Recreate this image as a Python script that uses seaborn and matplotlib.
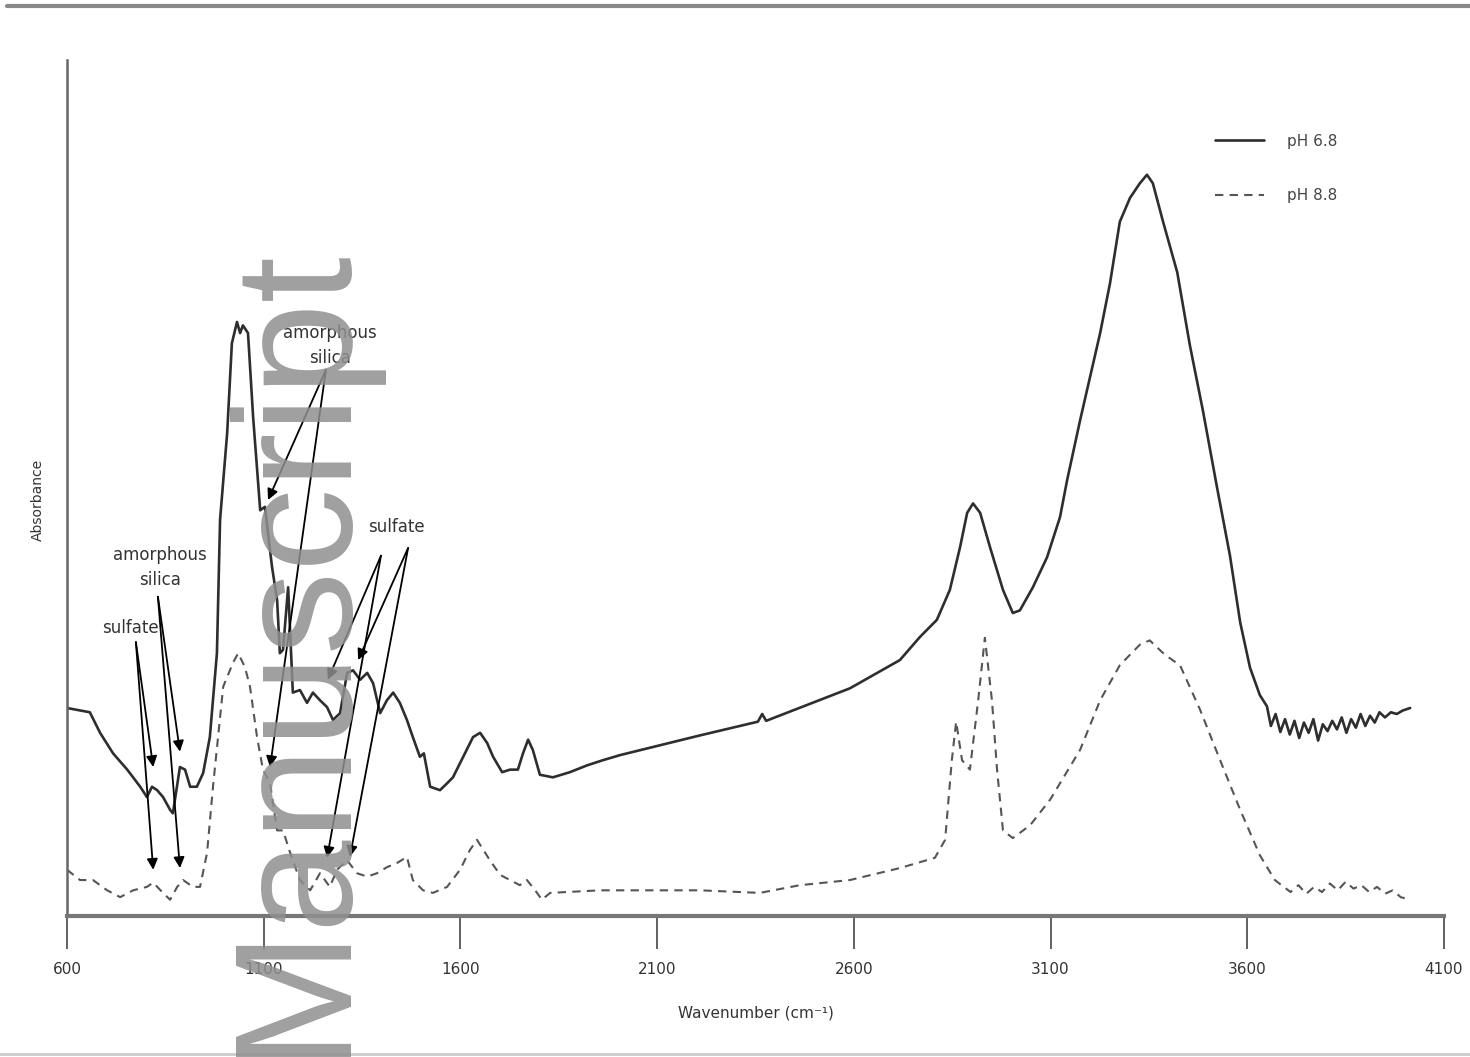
import matplotlib
matplotlib.use("Agg")
import matplotlib.pyplot as plt
from matplotlib.lines import Line2D
import pandas as pd
import seaborn as sns

# pH 6.8 spectrum (solid)
wn_68 = [600, 658, 684, 717, 753, 786, 803, 816, 829, 844, 862, 869, 887, 900, 913, 930,
         946, 963, 981, 989, 1007, 1019, 1032, 1040, 1047, 1060, 1073, 1091, 1103, 1121,
         1134, 1141, 1149, 1162, 1174, 1192, 1210, 1225, 1243, 1261, 1276, 1294, 1312,
         1327, 1345, 1363, 1378, 1396, 1413, 1429, 1446, 1464, 1479, 1497, 1507, 1523,
         1548, 1566, 1581, 1607, 1632, 1650, 1668, 1683, 1706, 1726, 1746, 1759, 1772,
         1784, 1802, 1835, 1878, 1922, 1962, 2006, 2209, 2356, 2367, 2377, 2590, 2717,
         2768, 2811, 2844, 2870, 2888, 2903, 2921, 2946, 2979, 3004, 3022, 3055, 3091,
         3124, 3142, 3175, 3226, 3251, 3276, 3302, 3327, 3345, 3360, 3386, 3422, 3454,
         3487, 3523, 3556, 3582, 3607, 3632, 3650,
         3660, 3672, 3684, 3696, 3708, 3720, 3732, 3744, 3756, 3768, 3780, 3792, 3804,
         3816, 3828, 3840, 3852, 3864, 3876, 3888, 3900, 3912, 3924, 3936, 3950, 3965,
         3980, 3995, 4014]
abs_68 = [0.243, 0.238, 0.214, 0.190, 0.171, 0.151, 0.139, 0.151, 0.147, 0.139, 0.124,
          0.120, 0.174, 0.171, 0.151, 0.151, 0.167, 0.209, 0.307, 0.463, 0.564, 0.669,
          0.694, 0.681, 0.690, 0.681, 0.583, 0.474, 0.478, 0.408, 0.369, 0.307, 0.311,
          0.384, 0.261, 0.264, 0.249, 0.261, 0.252, 0.244, 0.229, 0.237, 0.284, 0.287,
          0.276, 0.284, 0.272, 0.237, 0.252, 0.261, 0.249, 0.229, 0.209, 0.186, 0.190,
          0.151, 0.147, 0.155, 0.162, 0.186, 0.209, 0.214, 0.202, 0.186, 0.168, 0.171,
          0.171, 0.190, 0.206, 0.194, 0.165, 0.162, 0.168, 0.176, 0.182, 0.188, 0.211,
          0.227, 0.236, 0.228, 0.266, 0.299, 0.326, 0.346, 0.381, 0.431, 0.471, 0.482,
          0.471, 0.431, 0.381, 0.354, 0.357, 0.384, 0.419, 0.466, 0.509, 0.579, 0.681,
          0.739, 0.811, 0.839, 0.856, 0.866, 0.856, 0.811, 0.752, 0.667, 0.591, 0.501,
          0.421, 0.343, 0.290, 0.258, 0.245,
          0.222, 0.236, 0.215, 0.230, 0.212, 0.228, 0.208, 0.226, 0.214, 0.230, 0.205,
          0.224, 0.216, 0.228, 0.218, 0.232, 0.214, 0.230, 0.220, 0.236, 0.222, 0.234,
          0.226, 0.238, 0.232, 0.238, 0.236, 0.240, 0.243]

# pH 8.8 spectrum (dashed)
wn_88 = [600, 633, 666, 702, 735, 768, 803, 819, 844, 862, 880, 895, 920, 938, 956, 971,
         997, 1022, 1035, 1052, 1065, 1083, 1098, 1116, 1134, 1149, 1167, 1192, 1218,
         1243, 1268, 1286, 1312, 1337, 1363, 1388, 1413, 1439, 1464, 1479, 1505, 1530,
         1566, 1599, 1624, 1642, 1675, 1701, 1751, 1769, 1790, 1807, 1828, 1955, 2209,
         2361, 2463, 2590, 2717, 2806, 2832, 2849, 2860, 2875, 2895, 2916, 2933, 2951,
         2964, 2979, 3004, 3048, 3099, 3175, 3226, 3276, 3327, 3352, 3391, 3429, 3480,
         3531, 3582, 3632, 3670, 3690, 3710, 3730, 3750, 3770, 3790, 3810, 3830, 3850,
         3870, 3890, 3910, 3930, 3950, 3970, 3990, 4014]
abs_88 = [0.054, 0.042, 0.042, 0.030, 0.022, 0.030, 0.034, 0.039, 0.027, 0.019, 0.034,
          0.042, 0.034, 0.034, 0.074, 0.151, 0.268, 0.296, 0.307, 0.291, 0.268, 0.209,
          0.171, 0.155, 0.100, 0.100, 0.074, 0.042, 0.030, 0.050, 0.034, 0.054, 0.065,
          0.050, 0.046, 0.050, 0.057, 0.062, 0.069, 0.042, 0.030, 0.027, 0.034, 0.054,
          0.077, 0.089, 0.065, 0.048, 0.036, 0.042, 0.030, 0.019, 0.027, 0.030, 0.030,
          0.027, 0.036, 0.042, 0.056, 0.068, 0.089, 0.182, 0.227, 0.182, 0.171, 0.252,
          0.325, 0.252, 0.171, 0.100, 0.091, 0.106, 0.136, 0.194, 0.252, 0.293, 0.317,
          0.322, 0.305, 0.293, 0.241, 0.182, 0.124, 0.071, 0.042, 0.035, 0.028, 0.036,
          0.026, 0.034, 0.028, 0.038, 0.030, 0.040, 0.032, 0.036, 0.028, 0.034, 0.026,
          0.030, 0.022, 0.019]

x_ticks = [600, 1100, 1600, 2100, 2600, 3100, 3600, 4100]

# annotations: (text, text position, arrow starts, arrow tips)
annotations = [
    ("sulfate", (760, 0.336), [(775, 0.320), (775, 0.320)], [(819, 0.174), (819, 0.054)]),
    ("amorphous\nsilica", (836, 0.407), [(831, 0.373), (831, 0.373)], [(887, 0.192), (887, 0.056)]),
    ("amorphous\nsilica", (1268, 0.667), [(1258, 0.638), (1258, 0.638)], [(1111, 0.486), (1116, 0.174)]),
    ("sulfate", (1436, 0.454),
     [(1398, 0.421), (1398, 0.421), (1467, 0.430), (1467, 0.430)],
     [(1263, 0.276), (1261, 0.068), (1340, 0.299), (1319, 0.069)]),
]

sns.set_theme(style="white")
plt.rcParams["font.family"] = ["DejaVu Sans"]

fig = plt.figure(figsize=(14.7, 10.57), dpi=100)
ax = fig.add_axes([0.0456, 0.1334, 0.9367, 0.8098])

df68 = pd.DataFrame({"wavenumber": wn_68, "absorbance": abs_68})
df88 = pd.DataFrame({"wavenumber": wn_88, "absorbance": abs_88})
sns.lineplot(data=df68, x="wavenumber", y="absorbance", ax=ax, color="#2e2e2e",
             linewidth=1.9, estimator=None, label="pH 6.8")
sns.lineplot(data=df88, x="wavenumber", y="absorbance", ax=ax, color="#555555",
             linewidth=1.5, linestyle=(0, (4, 3)), estimator=None, label="pH 8.8")

ax.set_xlim(600, 4100)
ax.set_ylim(0, 1.0)
ax.set_xticks(x_ticks)
ax.set_yticks([])
ax.tick_params(axis="x", direction="out", length=24, width=1.3, color="#555555",
               labelsize=11, labelcolor="#333333", pad=9, bottom=True)
for side in ["top", "right"]:
    ax.spines[side].set_visible(False)
ax.spines["bottom"].set_color("#777777")
ax.spines["bottom"].set_linewidth(3)
ax.spines["left"].set_color("#666666")
ax.spines["left"].set_linewidth(1.8)

ax.set_xlabel("Wavenumber (cm\u207b\u00b9)", fontsize=11, color="#333333")
ax.xaxis.set_label_coords(0.5, -0.104)
ax.set_ylabel("Absorbance", fontsize=10, color="#333333")
ax.yaxis.set_label_coords(-0.016, 0.486)

ax.legend(loc="upper left", bbox_to_anchor=(0.824, 0.93), frameon=False,
          fontsize=11, handlelength=3.2, handletextpad=1.5, labelspacing=2.6,
          labelcolor="#444444")

arrow_kw = dict(arrowstyle="-|>", color="black", lw=1.3, mutation_scale=16,
                shrinkA=0, shrinkB=0)
for label, pos, starts, tips in annotations:
    ax.text(pos[0], pos[1], label, ha="center", va="center", fontsize=12,
            color="#333333", linespacing=1.5)
    for start, tip in zip(starts, tips):
        ax.annotate("", xy=tip, xytext=start, arrowprops=arrow_kw)

# page rules and watermark
fig.add_artist(Line2D([0.005, 1.0], [0.9943, 0.9943], color="#888888", lw=3,
                      transform=fig.transFigure))
fig.add_artist(Line2D([0.0, 1.0], [0.003, 0.003], color="#cccccc", lw=2,
                      transform=fig.transFigure))
fig.text(0.230, 0.0, "Manuscript", rotation=90, rotation_mode="anchor",
         ha="left", va="baseline", fontsize=120, family="Liberation Sans",
         color="#8f8f8f", alpha=0.85, zorder=10)

fig.savefig("out.png", dpi=100)
